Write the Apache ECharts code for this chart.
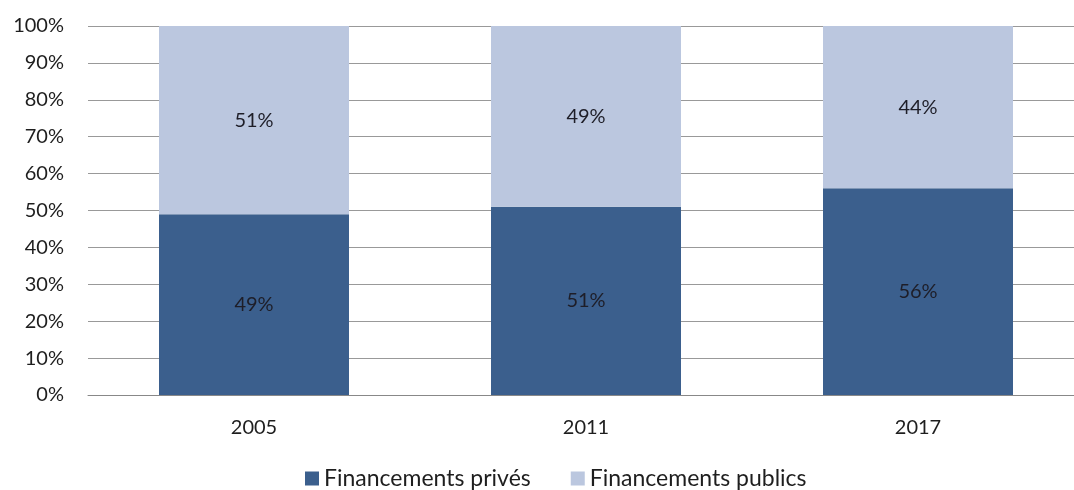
<!DOCTYPE html>
<html><head><meta charset="utf-8">
<script src="https://cdn.jsdelivr.net/npm/echarts@6/dist/echarts.min.js"></script>
<style>html,body{margin:0;padding:0;background:#fff;overflow:hidden;width:1074px;height:490px}#c{width:1084px;height:490px}</style>
</head><body><div id="c"></div>
<script>
const categories = ['2005', '2011', '2017'];
const prive = [49, 51, 56];
const public_ = [51, 49, 44];
const yTicks = [0, 10, 20, 30, 40, 50, 60, 70, 80, 90, 100];
const seriesNames = ['Financements privés', 'Financements publics'];

const chart = echarts.init(document.getElementById('c'));
const font = "Lato, 'Open Sans', sans-serif";
const lbl = {show: true, position: 'inside', formatter: p => p.value + '%', color: '#1e1e28', fontSize: 20, fontFamily: font};
chart.setOption({
  animation: false,
  grid: {left: 88, right: 0, top: 26, bottom: 95, containLabel: false},
  legend: {
    top: 467, left: 305, itemWidth: 14, itemHeight: 14, itemGap: 40,
    icon: 'rect', padding: 0,
    textStyle: {fontSize: 23, color: '#1e1e1e', fontFamily: font},
    data: seriesNames
  },
  xAxis: {
    type: 'category', data: categories,
    axisLine: {show: true, lineStyle: {color: '#888', width: 1}},
    axisTick: {show: false},
    axisLabel: {fontSize: 20, color: '#1e1e1e', margin: 23, fontFamily: font}
  },
  yAxis: {
    type: 'value', min: yTicks[0], max: yTicks[yTicks.length - 1], interval: 10,
    axisLine: {show: false}, axisTick: {show: false},
    splitLine: {lineStyle: {color: '#999', width: 1}},
    axisLabel: {fontSize: 20, color: '#1e1e1e', margin: 24, formatter: v => v + '%', fontFamily: font}
  },
  series: [
    {name: seriesNames[0], type: 'bar', stack: 's', data: prive, barWidth: 190,
     itemStyle: {color: '#3B5F8D'}, label: lbl},
    {name: seriesNames[1], type: 'bar', stack: 's', data: public_, barWidth: 190,
     itemStyle: {color: '#BBC7DF'}, label: lbl}
  ]
});
</script></body></html>
